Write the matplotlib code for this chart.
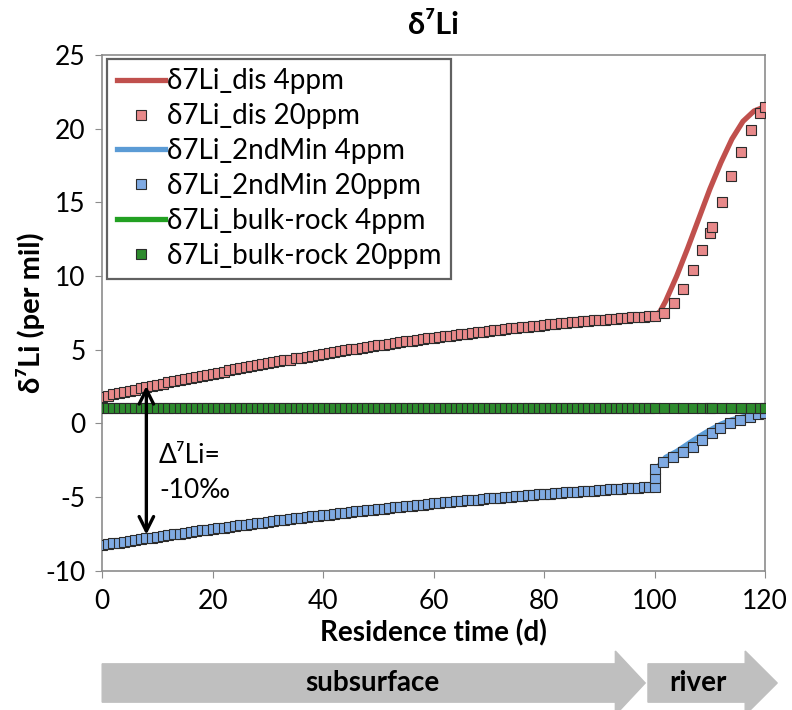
import matplotlib
matplotlib.use("Agg")
import matplotlib.pyplot as plt
import matplotlib.transforms as mtransforms
from matplotlib.patches import FancyArrow
import numpy as np

plt.rcParams['font.family'] = ['Lato', 'DejaVu Sans']
plt.rcParams['axes.unicode_minus'] = False

# daily model output in the subsurface (0-100 d)
days = np.arange(0, 101)
dis_20ppm = [1.80, 1.88, 1.97, 2.05, 2.14, 2.22, 2.30, 2.38, 2.46, 2.54,
             2.62, 2.70, 2.78, 2.85, 2.93, 3.01, 3.08, 3.16, 3.23, 3.31,
             3.38, 3.45, 3.52, 3.60, 3.67, 3.74, 3.81, 3.88, 3.94, 4.01,
             4.08, 4.15, 4.21, 4.28, 4.34, 4.41, 4.47, 4.53, 4.60, 4.66,
             4.72, 4.78, 4.84, 4.90, 4.96, 5.02, 5.08, 5.13, 5.19, 5.24,
             5.30, 5.35, 5.41, 5.46, 5.52, 5.57, 5.62, 5.67, 5.72, 5.77,
             5.82, 5.87, 5.92, 5.96, 6.01, 6.06, 6.10, 6.15, 6.19, 6.24,
             6.28, 6.32, 6.36, 6.41, 6.45, 6.49, 6.53, 6.57, 6.60, 6.64,
             6.68, 6.72, 6.75, 6.79, 6.82, 6.86, 6.89, 6.92, 6.96, 6.99,
             7.02, 7.05, 7.08, 7.11, 7.14, 7.17, 7.20, 7.22, 7.25, 7.27,
             7.30]
min2_20ppm = [-8.25, -8.19, -8.13, -8.08, -8.02, -7.96, -7.91, -7.85, -7.80, -7.74,
              -7.69, -7.63, -7.58, -7.53, -7.47, -7.42, -7.37, -7.31, -7.26, -7.21,
              -7.16, -7.11, -7.06, -7.01, -6.96, -6.91, -6.86, -6.81, -6.77, -6.72,
              -6.67, -6.63, -6.58, -6.53, -6.49, -6.44, -6.40, -6.35, -6.31, -6.26,
              -6.22, -6.18, -6.14, -6.09, -6.05, -6.01, -5.97, -5.93, -5.89, -5.85,
              -5.81, -5.77, -5.73, -5.69, -5.65, -5.61, -5.58, -5.54, -5.50, -5.47,
              -5.43, -5.40, -5.36, -5.33, -5.29, -5.26, -5.22, -5.19, -5.16, -5.12,
              -5.09, -5.06, -5.03, -5.00, -4.97, -4.94, -4.91, -4.88, -4.85, -4.82,
              -4.79, -4.76, -4.74, -4.71, -4.68, -4.65, -4.63, -4.60, -4.58, -4.55,
              -4.53, -4.50, -4.48, -4.45, -4.43, -4.41, -4.39, -4.36, -4.34, -4.32,
              -4.30]

# river part (100-120 d), coarser output
river_t = [101.7, 103.5, 105.2, 107.0, 108.6, 110.0, 110.4, 112.2, 113.8,
           115.7, 117.5, 119.1, 120.0]
dis_river_20ppm = [7.5, 8.2, 9.1, 10.4, 11.8, 12.9, 13.3, 15.0, 16.8,
                   18.4, 19.9, 21.1, 21.5]
min2_river_t = [100.0, 100.1, 101.5, 103.3, 105.2, 107.0, 108.6, 110.4, 111.9,
                113.7, 115.5, 117.3, 118.7, 120.0]
min2_river_20ppm = [-3.7, -3.1, -2.6, -2.3, -1.95, -1.6, -1.1, -0.65, -0.3,
                    0.04, 0.25, 0.45, 0.65, 0.7]
bulk_rock = 1.05

# 4 ppm curves
line_t = [0, 10, 20, 30, 40, 50, 60, 70, 80, 90, 100, 101, 102, 104, 106,
          108, 110, 112, 114, 116, 118, 120]
dis_4ppm = [1.80, 2.62, 3.38, 4.08, 4.72, 5.30, 5.82, 6.28, 6.68, 7.02, 7.30,
            7.6, 8.3, 10.0, 11.9, 13.9, 15.9, 17.7, 19.3, 20.5, 21.2, 21.5]
min2_line_t = [0, 10, 20, 30, 40, 50, 60, 70, 80, 90, 100, 100.5, 102, 104,
               106, 108, 110, 112, 114, 116, 118, 120]
min2_4ppm = [-8.25, -7.69, -7.16, -6.67, -6.22, -5.81, -5.43, -5.09, -4.79,
             -4.53, -4.30, -3.0, -2.3, -1.9, -1.4, -0.9, -0.45, -0.05, 0.25,
             0.45, 0.6, 0.7]

red_line, red_fill = '#C0504D', '#E8898A'
blue_line, blue_fill = '#5B9BD5', '#7FAAE3'
green_line, green_fill = '#22A022', '#2E8B2E'
edge = '#2B2B2B'

fig = plt.figure(figsize=(7.92, 7.10), dpi=100)
ax = fig.add_axes([0.129, 0.196, 0.837, 0.7265])

ax.plot(line_t, dis_4ppm, color=red_line, lw=3.8, label='δ7Li_dis 4ppm', zorder=2)
ax.plot(list(days) + river_t, dis_20ppm + dis_river_20ppm, ls='none', marker='s',
        ms=6.8, mfc=red_fill, mec=edge, mew=0.8, label='δ7Li_dis 20ppm', zorder=3)
ax.plot(min2_line_t, min2_4ppm, color=blue_line, lw=3.8, label='δ7Li_2ndMin 4ppm', zorder=2)
ax.plot(list(days) + min2_river_t, min2_20ppm + min2_river_20ppm, ls='none', marker='s',
        ms=6.8, mfc=blue_fill, mec=edge, mew=0.8, label='δ7Li_2ndMin 20ppm', zorder=3)
ax.plot([0, 120], [bulk_rock, bulk_rock], color=green_line, lw=3.8,
        label='δ7Li_bulk-rock 4ppm', zorder=2)
green_t = list(days) + river_t
ax.plot(green_t, np.full(len(green_t), bulk_rock), ls='none', marker='s',
        ms=6.8, mfc=green_fill, mec=edge, mew=0.8, label='δ7Li_bulk-rock 20ppm', zorder=3)

ax.set_xlim(0, 120)
ax.set_ylim(-10, 25)
ax.set_xticks(range(0, 121, 20))
ax.set_yticks(range(-10, 26, 5))
for s in ax.spines.values():
    s.set_color('#8C8C8C')
    s.set_linewidth(1.2)
ax.tick_params(direction='out', length=5, color='#8C8C8C', labelsize=19)
ax.tick_params(axis='x', pad=8)
ax.tick_params(axis='y', pad=7)
ax.set_xlabel('Residence time (d)', fontsize=20, fontweight='bold', labelpad=4)
ax.set_ylabel('δ⁷Li (per mil)', fontsize=21, fontweight='bold', labelpad=0)
ax.set_title('δ⁷Li', fontsize=22, fontweight='bold', pad=15)

leg = ax.legend(loc='upper left', bbox_to_anchor=(0.007, 0.993), fontsize=20,
                frameon=True, fancybox=False, edgecolor='#3A3A3A', handlelength=1.75,
                handletextpad=0.05, labelspacing=0.32, borderpad=0.35, borderaxespad=0.0)
leg.get_frame().set_linewidth(1.6)

# Delta annotation
ax.annotate('', xy=(8, 2.55), xytext=(8, -7.55),
            arrowprops=dict(arrowstyle='<->', color='black', lw=2.4,
                            mutation_scale=26, shrinkA=0, shrinkB=0), zorder=5)
ax.text(10.3, -1.3, 'Δ⁷Li=\n-10‰', fontsize=19, va='top', ha='left', linespacing=1.5)

# flow-path arrows below the axis
trans = mtransforms.blended_transform_factory(ax.transData, fig.transFigure)
gray = '#BFBFBF'
yc = 1 - 683 / 710
ax.add_patch(FancyArrow(0, yc, 98.3, 0, width=0.054, head_width=0.09, head_length=5.4,
                        length_includes_head=True, transform=trans, color=gray,
                        clip_on=False))
ax.add_patch(FancyArrow(98.8, yc, 23.4, 0, width=0.054, head_width=0.09, head_length=5.8,
                        length_includes_head=True, transform=trans, color=gray,
                        clip_on=False))
ax.text(49, yc, 'subsurface', transform=trans, ha='center', va='center',
        fontsize=20, fontweight='bold')
ax.text(107.8, yc, 'river', transform=trans, ha='center', va='center',
        fontsize=20, fontweight='bold')

fig.savefig('out.png', dpi=100)
